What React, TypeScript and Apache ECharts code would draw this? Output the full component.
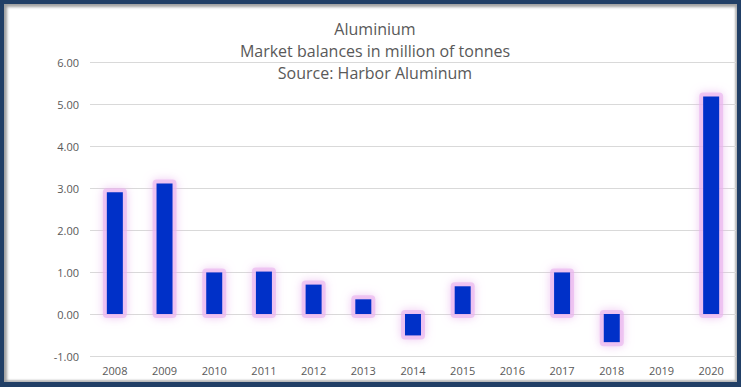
import React, { useEffect, useRef } from "react";
import * as echarts from "echarts";

const years = ["2008", "2009", "2010", "2011", "2012", "2013", "2014", "2015", "2016", "2017", "2018", "2019", "2020"];
const balances: (number | null)[] = [2.9, 3.11, 0.99, 1.01, 0.7, 0.35, -0.51, 0.66, null, 0.99, -0.67, null, 5.18];
const titleLines = ["Aluminium", "Market balances in million of tonnes", "Source: Harbor Aluminum"];

export default function App() {
  const ref = useRef<HTMLDivElement>(null);
  useEffect(() => {
    if (!ref.current) return;
    const chart = echarts.init(ref.current, null, { renderer: "svg" });
    const glowData = balances
      .map((v, i) => (v === null ? null : [i, v]))
      .filter((d) => d !== null);
    chart.setOption({
      animation: false,
      title: {
        text: titleLines.join("\n"),
        left: 370,
        top: 13,
        textAlign: "center",
        textStyle: {
          color: "#595959",
          fontSize: 16,
          fontWeight: "normal",
          fontFamily: "Open Sans",
          lineHeight: 22,
        },
      },
      grid: { left: 90, right: 5, top: 62, bottom: 31 },
      xAxis: {
        type: "category",
        data: years,
        axisLine: { show: false, onZero: false },
        axisTick: { show: false },
        axisLabel: { color: "#595959", fontSize: 11, margin: 9, fontFamily: "Open Sans" },
      },
      yAxis: {
        type: "value",
        min: -1,
        max: 6,
        interval: 1,
        axisLine: { show: false },
        axisTick: { show: false },
        splitLine: { lineStyle: { color: "#d9d9d9", width: 1 } },
        axisLabel: {
          color: "#595959",
          fontSize: 11,
          margin: 11,
          fontFamily: "Open Sans",
          formatter: (v: number) => v.toFixed(2),
        },
      },
      series: [
        {
          type: "custom",
          silent: true,
          data: glowData,
          z: 1,
          renderItem: (params: any, api: any) => {
            const base = api.coord([api.value(0), 0]);
            const top = api.coord([api.value(0), api.value(1)]);
            const pad = 4;
            const w = 16 + pad * 2;
            const y0 = Math.min(base[1], top[1]) - pad;
            const h = Math.abs(base[1] - top[1]) + pad * 2;
            return {
              type: "rect",
              shape: { x: base[0] - w / 2, y: y0, width: w, height: h, r: 4 },
              style: {
                fill: "rgba(234,180,238,0.65)",
                shadowColor: "rgba(230,170,235,0.95)",
                shadowBlur: 10,
              },
            };
          },
        },
        {
          type: "bar",
          data: balances,
          barWidth: 16,
          z: 3,
          itemStyle: {
            color: "#0030c8",
          },
        },
      ],
    });
    return () => chart.dispose();
  }, []);

  return (
    <div
      style={{
        position: "fixed",
        left: 0,
        top: 0,
        width: 741,
        height: 387,
        background: "#213f66",
      }}
    >
      <div
        style={{
          position: "absolute",
          left: 4,
          top: 4,
          width: 733,
          height: 378,
          background: "#ffffff",
          boxShadow: "inset 3px 3px 3px #a0a0a0, inset -2px -2px 2px #b8b8b8",
        }}
      />
      <div ref={ref} style={{ position: "absolute", left: 0, top: 0, width: 741, height: 387 }} />
    </div>
  );
}
